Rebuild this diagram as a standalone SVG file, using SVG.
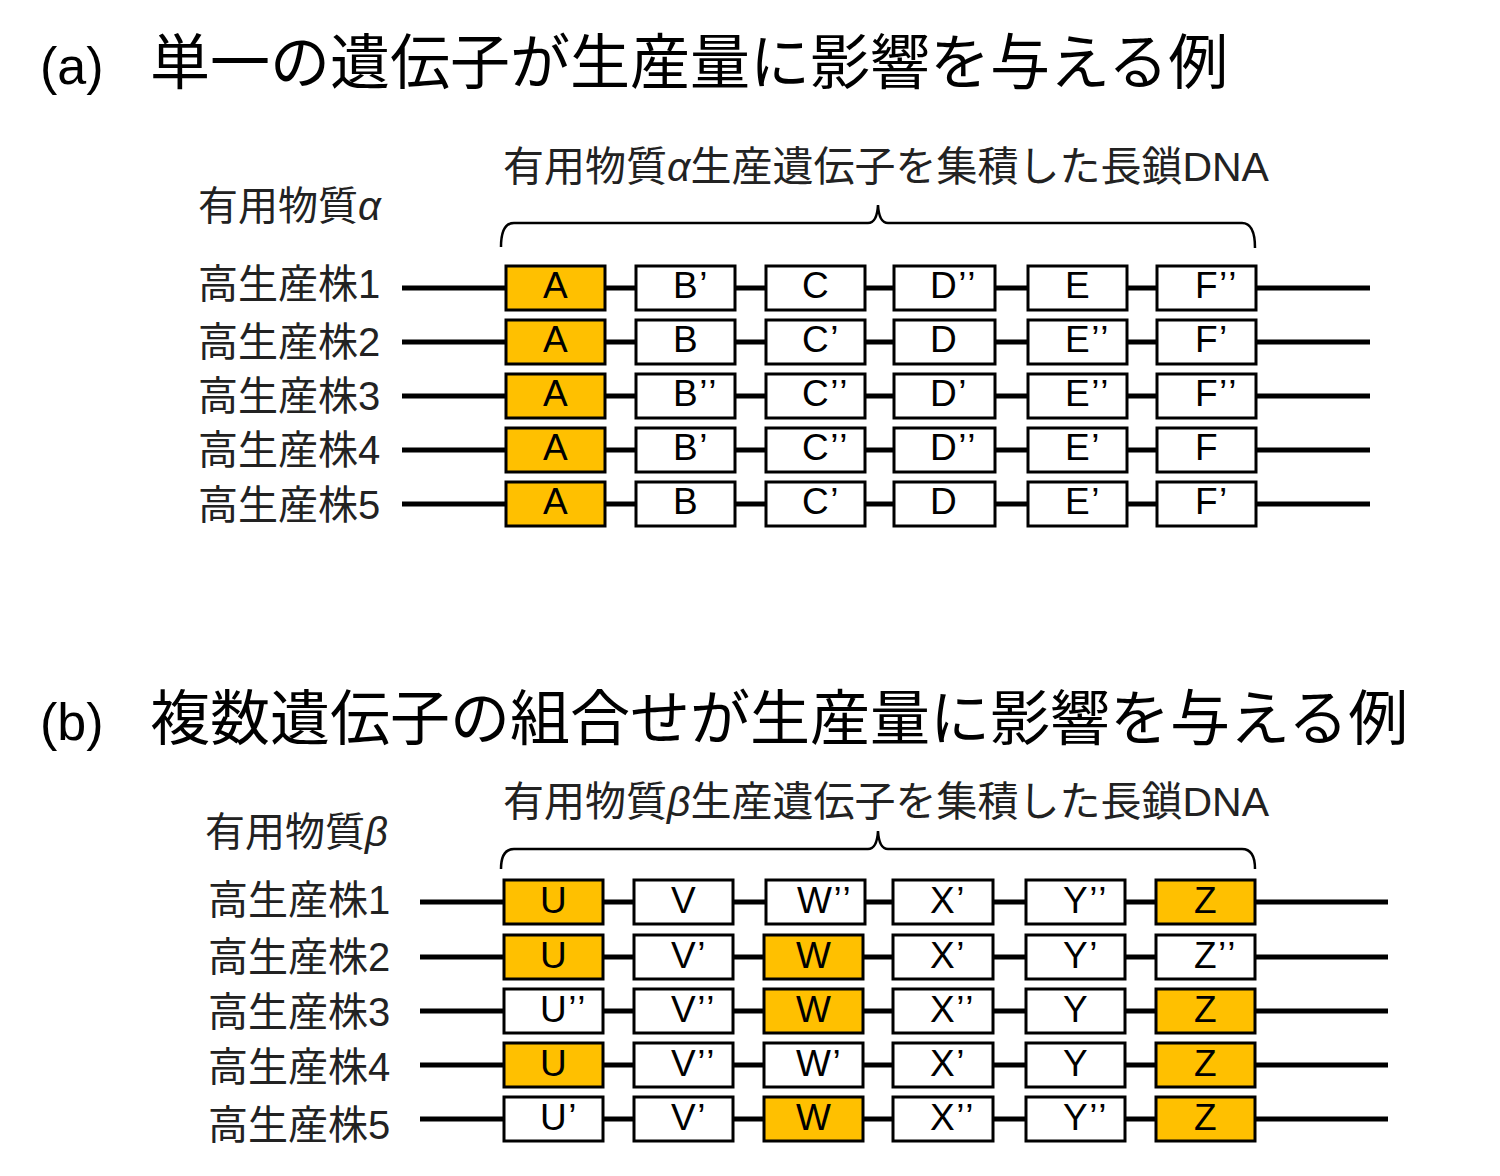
<svg xmlns="http://www.w3.org/2000/svg" width="1500" height="1176" viewBox="0 0 1500 1176">
<style>
.title{font-family:"Liberation Sans","Noto Sans CJK JP",sans-serif;font-size:52px;fill:#000}
.tj{font-family:"Noto Sans CJK JP",sans-serif;font-size:60px;fill:#000}
.lbl{font-family:"Liberation Sans","Noto Sans CJK JP",sans-serif;font-size:40px;fill:#222}
.hd{font-family:"Liberation Sans","Noto Sans CJK JP",sans-serif;font-size:41px;fill:#222}
.w{fill:#fff;stroke:#000;stroke-width:3}
.o{fill:#FFC000;stroke:#000;stroke-width:3}
.t{font-family:"Liberation Sans",sans-serif;font-size:37px;fill:#000;letter-spacing:1.5px}
.ln{stroke:#000;stroke-width:5;fill:none}
.br{stroke:#000;stroke-width:2.5;fill:none}
</style>
<rect width="1500" height="1176" fill="#fff"/>
<g id="title-a"><text class="title" x="40" y="84">(a)</text><text class="tj" x="150" y="84">単一の遺伝子が生産量に影響を与える例</text></g>
<g id="title-b"><text class="title" x="40" y="740">(b)</text><text class="tj" x="150" y="740">複数遺伝子の組合せが生産量に影響を与える例</text></g>

<g id="header-a"><text class="hd" x="503" y="181">有用物質<tspan font-style="italic">α</tspan>生産遺伝子を集積した長鎖DNA</text></g>
<g id="substance-a"><text class="lbl" x="198" y="220">有用物質<tspan font-style="italic">α</tspan></text></g>
<g id="header-b"><text class="hd" x="503" y="816">有用物質<tspan font-style="italic">β</tspan>生産遺伝子を集積した長鎖DNA</text></g>
<g id="substance-b"><text class="lbl" x="205" y="846">有用物質<tspan font-style="italic">β</tspan></text></g>

<g id="brace-a"><path class="br" d="M501 247 Q501 223 514 223 L868 223 Q877 223 878 205 Q879 223 888 223 L1242 223 Q1255 223 1255 248"/></g>
<g id="brace-b"><path class="br" d="M501 869 Q501 849 514 849 L868 849 Q877 849 878 831 Q879 849 888 849 L1242 849 Q1255 849 1255 869"/></g>

<g id="labels-a">
<text class="lbl" x="198" y="298">高生産株1</text>
<text class="lbl" x="198" y="356">高生産株2</text>
<text class="lbl" x="198" y="410">高生産株3</text>
<text class="lbl" x="198" y="464">高生産株4</text>
<text class="lbl" x="198" y="519">高生産株5</text>
</g>
<g id="labels-b">
<text class="lbl" x="208" y="914">高生産株1</text>
<text class="lbl" x="208" y="971">高生産株2</text>
<text class="lbl" x="208" y="1026">高生産株3</text>
<text class="lbl" x="208" y="1081">高生産株4</text>
<text class="lbl" x="208" y="1139">高生産株5</text>
</g>

<g id="connectors">
<line class="ln" x1="402" y1="288" x2="1370" y2="288"/>
<line class="ln" x1="402" y1="342" x2="1370" y2="342"/>
<line class="ln" x1="402" y1="396" x2="1370" y2="396"/>
<line class="ln" x1="402" y1="450" x2="1370" y2="450"/>
<line class="ln" x1="402" y1="504" x2="1370" y2="504"/>
<line class="ln" x1="420" y1="902" x2="1388" y2="902"/>
<line class="ln" x1="420" y1="957" x2="1388" y2="957"/>
<line class="ln" x1="420" y1="1011" x2="1388" y2="1011"/>
<line class="ln" x1="420" y1="1065" x2="1388" y2="1065"/>
<line class="ln" x1="420" y1="1119" x2="1388" y2="1119"/>
</g>

<g id="a1A"><rect class="o" x="506" y="266" width="99" height="44"/><text class="t" x="543" y="298">A</text></g>
<g id="a1B"><rect class="w" x="636" y="266" width="99" height="44"/><text class="t" x="673" y="298">B’</text></g>
<g id="a1C"><rect class="w" x="766" y="266" width="99" height="44"/><text class="t" x="802" y="298">C</text></g>
<g id="a1D"><rect class="w" x="894" y="266" width="101" height="44"/><text class="t" x="930" y="298">D’’</text></g>
<g id="a1E"><rect class="w" x="1028" y="266" width="99" height="44"/><text class="t" x="1065" y="298">E</text></g>
<g id="a1F"><rect class="w" x="1157" y="266" width="99" height="44"/><text class="t" x="1195" y="298">F’’</text></g>

<g id="a2A"><rect class="o" x="506" y="320" width="99" height="44"/><text class="t" x="543" y="352">A</text></g>
<g id="a2B"><rect class="w" x="636" y="320" width="99" height="44"/><text class="t" x="673" y="352">B</text></g>
<g id="a2C"><rect class="w" x="766" y="320" width="99" height="44"/><text class="t" x="802" y="352">C’</text></g>
<g id="a2D"><rect class="w" x="894" y="320" width="101" height="44"/><text class="t" x="930" y="352">D</text></g>
<g id="a2E"><rect class="w" x="1028" y="320" width="99" height="44"/><text class="t" x="1065" y="352">E’’</text></g>
<g id="a2F"><rect class="w" x="1157" y="320" width="99" height="44"/><text class="t" x="1195" y="352">F’</text></g>

<g id="a3A"><rect class="o" x="506" y="374" width="99" height="44"/><text class="t" x="543" y="406">A</text></g>
<g id="a3B"><rect class="w" x="636" y="374" width="99" height="44"/><text class="t" x="673" y="406">B’’</text></g>
<g id="a3C"><rect class="w" x="766" y="374" width="99" height="44"/><text class="t" x="802" y="406">C’’</text></g>
<g id="a3D"><rect class="w" x="894" y="374" width="101" height="44"/><text class="t" x="930" y="406">D’</text></g>
<g id="a3E"><rect class="w" x="1028" y="374" width="99" height="44"/><text class="t" x="1065" y="406">E’’</text></g>
<g id="a3F"><rect class="w" x="1157" y="374" width="99" height="44"/><text class="t" x="1195" y="406">F’’</text></g>

<g id="a4A"><rect class="o" x="506" y="428" width="99" height="44"/><text class="t" x="543" y="460">A</text></g>
<g id="a4B"><rect class="w" x="636" y="428" width="99" height="44"/><text class="t" x="673" y="460">B’</text></g>
<g id="a4C"><rect class="w" x="766" y="428" width="99" height="44"/><text class="t" x="802" y="460">C’’</text></g>
<g id="a4D"><rect class="w" x="894" y="428" width="101" height="44"/><text class="t" x="930" y="460">D’’</text></g>
<g id="a4E"><rect class="w" x="1028" y="428" width="99" height="44"/><text class="t" x="1065" y="460">E’</text></g>
<g id="a4F"><rect class="w" x="1157" y="428" width="99" height="44"/><text class="t" x="1195" y="460">F</text></g>

<g id="a5A"><rect class="o" x="506" y="482" width="99" height="44"/><text class="t" x="543" y="514">A</text></g>
<g id="a5B"><rect class="w" x="636" y="482" width="99" height="44"/><text class="t" x="673" y="514">B</text></g>
<g id="a5C"><rect class="w" x="766" y="482" width="99" height="44"/><text class="t" x="802" y="514">C’</text></g>
<g id="a5D"><rect class="w" x="894" y="482" width="101" height="44"/><text class="t" x="930" y="514">D</text></g>
<g id="a5E"><rect class="w" x="1028" y="482" width="99" height="44"/><text class="t" x="1065" y="514">E’</text></g>
<g id="a5F"><rect class="w" x="1157" y="482" width="99" height="44"/><text class="t" x="1195" y="514">F’</text></g>

<g id="b1U"><rect class="o" x="504" y="880" width="99" height="44"/><text class="t" x="540" y="913">U</text></g>
<g id="b1V"><rect class="w" x="634" y="880" width="99" height="44"/><text class="t" x="671" y="913">V</text></g>
<g id="b1W"><rect class="w" x="766" y="880" width="99" height="44"/><text class="t" x="797" y="913">W’’</text></g>
<g id="b1X"><rect class="w" x="893" y="880" width="100" height="44"/><text class="t" x="930" y="913">X’</text></g>
<g id="b1Y"><rect class="w" x="1026" y="880" width="99" height="44"/><text class="t" x="1063" y="913">Y’’</text></g>
<g id="b1Z"><rect class="o" x="1156" y="880" width="99" height="44"/><text class="t" x="1194" y="913">Z</text></g>

<g id="b2U"><rect class="o" x="504" y="935" width="99" height="44"/><text class="t" x="540" y="968">U</text></g>
<g id="b2V"><rect class="w" x="634" y="935" width="99" height="44"/><text class="t" x="671" y="968">V’</text></g>
<g id="b2W"><rect class="o" x="764" y="935" width="99" height="44"/><text class="t" x="796" y="968">W</text></g>
<g id="b2X"><rect class="w" x="893" y="935" width="100" height="44"/><text class="t" x="930" y="968">X’</text></g>
<g id="b2Y"><rect class="w" x="1026" y="935" width="99" height="44"/><text class="t" x="1063" y="968">Y’</text></g>
<g id="b2Z"><rect class="w" x="1156" y="935" width="99" height="44"/><text class="t" x="1194" y="968">Z’’</text></g>

<g id="b3U"><rect class="w" x="504" y="989" width="99" height="44"/><text class="t" x="540" y="1022">U’’</text></g>
<g id="b3V"><rect class="w" x="634" y="989" width="99" height="44"/><text class="t" x="671" y="1022">V’’</text></g>
<g id="b3W"><rect class="o" x="764" y="989" width="99" height="44"/><text class="t" x="796" y="1022">W</text></g>
<g id="b3X"><rect class="w" x="893" y="989" width="100" height="44"/><text class="t" x="930" y="1022">X’’</text></g>
<g id="b3Y"><rect class="w" x="1026" y="989" width="99" height="44"/><text class="t" x="1063" y="1022">Y</text></g>
<g id="b3Z"><rect class="o" x="1156" y="989" width="99" height="44"/><text class="t" x="1194" y="1022">Z</text></g>

<g id="b4U"><rect class="o" x="504" y="1043" width="99" height="44"/><text class="t" x="540" y="1076">U</text></g>
<g id="b4V"><rect class="w" x="634" y="1043" width="99" height="44"/><text class="t" x="671" y="1076">V’’</text></g>
<g id="b4W"><rect class="w" x="764" y="1043" width="99" height="44"/><text class="t" x="796" y="1076">W’</text></g>
<g id="b4X"><rect class="w" x="893" y="1043" width="100" height="44"/><text class="t" x="930" y="1076">X’</text></g>
<g id="b4Y"><rect class="w" x="1026" y="1043" width="99" height="44"/><text class="t" x="1063" y="1076">Y</text></g>
<g id="b4Z"><rect class="o" x="1156" y="1043" width="99" height="44"/><text class="t" x="1194" y="1076">Z</text></g>

<g id="b5U"><rect class="w" x="504" y="1097" width="99" height="44"/><text class="t" x="540" y="1130">U’</text></g>
<g id="b5V"><rect class="w" x="634" y="1097" width="99" height="44"/><text class="t" x="671" y="1130">V’</text></g>
<g id="b5W"><rect class="o" x="764" y="1097" width="99" height="44"/><text class="t" x="796" y="1130">W</text></g>
<g id="b5X"><rect class="w" x="893" y="1097" width="100" height="44"/><text class="t" x="930" y="1130">X’’</text></g>
<g id="b5Y"><rect class="w" x="1026" y="1097" width="99" height="44"/><text class="t" x="1063" y="1130">Y’’</text></g>
<g id="b5Z"><rect class="o" x="1156" y="1097" width="99" height="44"/><text class="t" x="1194" y="1130">Z</text></g>
</svg>
